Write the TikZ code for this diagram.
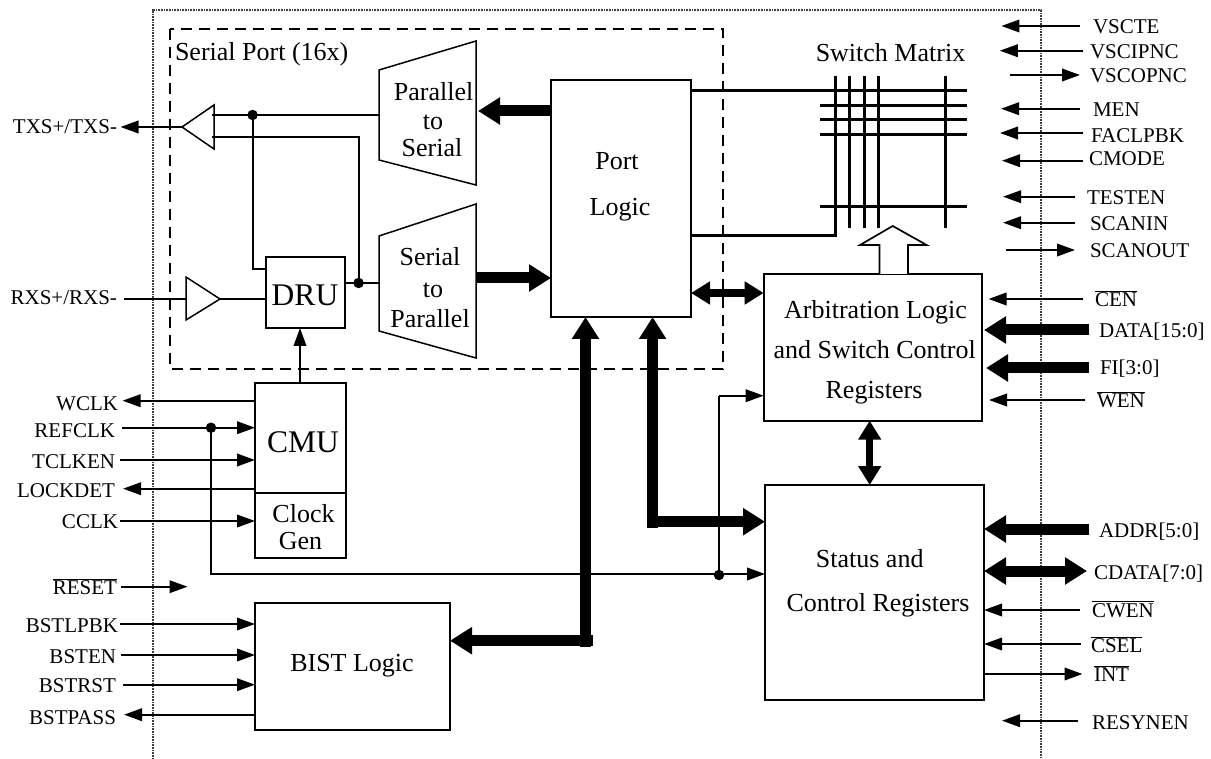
\documentclass[tikz,border=0pt]{standalone}
\usepackage{fontspec}
\setmainfont{Liberation Serif}
\usetikzlibrary{arrows.meta}
\tikzset{
  box/.style={draw,line width=2pt,inner sep=0,outer sep=0},
  txt/.style={inner sep=0,outer sep=0,text height=17.5pt,text depth=0pt,font=\fontsize{26}{30}\selectfont,align=center},
  big/.style={inner sep=0,outer sep=0,text height=21pt,text depth=0pt,font=\fontsize{31.5}{36}\selectfont},
  pin/.style={inner sep=0,outer sep=0,text height=14pt,text depth=0pt,font=\fontsize{21}{24}\selectfont},
  wire/.style={line width=2pt},
  sig/.style={wire,-{Triangle[length=18pt,width=12.5pt]}},
  bus/.style={line width=11pt,-{Triangle[length=22pt,width=26pt]}},
  bibus/.style={line width=11pt,{Triangle[length=22pt,width=26pt]}-{Triangle[length=22pt,width=26pt]}},
  link/.style={line width=7.5pt,{Triangle[length=19pt,width=22pt]}-{Triangle[length=19pt,width=22pt]}},
  grid/.style={line width=3pt},
  dot/.style={circle,fill=black,inner sep=0,minimum size=10.5pt},
  chip/.style={line width=1.2pt,black!75,dash pattern=on 1pt off .6pt},
  port/.style={line width=2pt,dash pattern=on 11pt off 7pt},
  mux/.style={draw,line width=1.5pt,line join=miter},
}
\begin{document}
\begin{tikzpicture}[x=1pt,y=-1pt]
\useasboundingbox (0,0) rectangle (1211,759);
% chip outline
\coordinate (o1) at (153,759); \coordinate (o2) at (153,10);
\coordinate (o3) at (1041,10); \coordinate (o4) at (1041,759);
\draw[chip] (o1) -- (o2) -- (o3) -- (o4);
% serial port outline
\coordinate (s1) at (170,29); \coordinate (s2) at (723,369);
\draw[port] (s1) rectangle (s2);
\node[txt,anchor=west] (tSP) at (175,52) {Serial Port (16x)};

% boxes
\node[box,minimum width=140pt,minimum height=237pt] (logic) at (621,198.5) {};
\node[box,minimum width=79pt,minimum height=71pt] (dru) at (305.5,292.5) {};
\node[box,minimum width=91pt,minimum height=109.7pt] (cmu) at (300.5,437.85) {};
\node[box,minimum width=91pt,minimum height=65.3pt] (gen) at (300.5,525.35) {};
\node[box,minimum width=195pt,minimum height=127.3pt] (bist) at (352.5,666.35) {};
\node[box,minimum width=218.3pt,minimum height=146.7pt] (arb) at (872.85,347.35) {};
\node[box,minimum width=219pt,minimum height=215pt] (stat) at (874.5,592.5) {};

% box texts
\node[txt] (tPort) at (617,161) {Port};
\node[txt] (tLogic) at (620,207) {Logic};
\node[big] (tDRU) at (305,295) {DRU};
\node[big] (tCMU) at (303,442) {CMU};
\node[txt] (tClock) at (303.5,514) {Clock};
\node[txt] (tGen) at (300.5,541) {Gen};
\node[txt] (tBIST) at (352,663) {BIST Logic};
\node[txt] (tA1) at (875.5,310) {Arbitration Logic};
\node[txt] (tA2) at (874.7,350) {and Switch Control};
\node[txt] (tA3) at (874,390) {Registers};
\node[txt] (tS1) at (869.7,559) {Status and};
\node[txt] (tS2) at (878,603) {Control Registers};
\node[txt] (tP1) at (433.6,92) {Parallel};
\node[txt] (tP2) at (433,121) {to};
\node[txt] (tP3) at (432,148) {Serial};
\node[txt] (tR1) at (430,257) {Serial};
\node[txt] (tR2) at (433,289) {to};
\node[txt] (tR3) at (430,319) {Parallel};
\node[txt] (tSM) at (890.5,53) {Switch Matrix};

% parallel-to-serial, serial-to-parallel
\coordinate (ptsL) at (379,115); \coordinate (ptsR) at (476,111);
\draw[mux] (379,70) -- (476,41) -- (476,185) -- (379,160) -- cycle;
\coordinate (stpL) at (379,283); \coordinate (stpR) at (476,278);
\draw[mux] (379,236) -- (476,204) -- (476,358) -- (379,331) -- cycle;
% buffers
\coordinate (txTip) at (182,127); \coordinate (rxTip) at (220,299); \coordinate (rxBase) at (186,299);
\draw[mux] (txTip) -- (214,105) -- (214,149) -- cycle;
\draw[mux] (rxBase |- 0,277) -- (rxTip) -- (rxBase |- 0,320) -- cycle;

% serial port wiring
\node[dot] (d1) at (252.6,115) {};
\node[dot] (d2) at (358.6,283) {};
\coordinate (b1) at (212,115); \coordinate (b2) at (212,137);
\draw[wire] (b1) -- (d1.center) -- (ptsL);
\draw[wire] (d1.center) -- (d1.center |- 0,269) -- (dru.west |- 0,269);
\draw[wire] (b2) -- (d2.center |- b2) -- (d2.center);
\draw[wire] (dru.east |- d2) -- (d2.center) -- (stpL);
\draw[wire] (rxTip) -- (dru.west |- rxTip);
\draw[sig] (cmu.north -| 300,0) -- (dru.south -| 300,0);

% left pins
\node[pin,anchor=east] (lTX) at (117,127) {TXS+/TXS-};
\coordinate (cTX) at (120.5,127);
\draw[sig] (txTip) -- (cTX);
\node[pin,anchor=east] (lRX) at (117,298) {RXS+/RXS-};
\coordinate (cRX) at (124,299);
\draw[wire] (cRX) -- (rxBase);
\node[pin,anchor=east] (lWCLK) at (118,403) {WCLK};
\coordinate (cWCLK) at (122.5,400.7);
\draw[sig] (cmu.west |- cWCLK) -- (cWCLK);
\node[pin,anchor=east] (lREF) at (115,430) {REFCLK};
\coordinate (cREF) at (122,427.7);
\node[dot] (d3) at (211,427.7) {};
\draw[sig] (cREF) -- (cmu.west |- cREF);
\node[pin,anchor=east] (lTCK) at (115,461) {TCLKEN};
\coordinate (cTCK) at (120,460);
\draw[sig] (cTCK) -- (cmu.west |- cTCK);
\node[pin,anchor=east] (lLOCK) at (115,490) {LOCKDET};
\coordinate (cLOCK) at (123,488.7);
\draw[sig] (cmu.west |- cLOCK) -- (cLOCK);
\node[pin,anchor=east] (lCCLK) at (118,521) {CCLK};
\coordinate (cCCLK) at (120,521);
\draw[sig] (cCCLK) -- (gen.west |- cCCLK);
\node[pin,anchor=east] (lRST) at (117,587.7) {$\overline{\mbox{RESET}}$};
\coordinate (cRST) at (121,586.7); \coordinate (eRST) at (187.5,586.7);
\draw[sig] (cRST) -- (eRST);
\node[pin,anchor=east] (lBL) at (118,625) {BSTLPBK};
\coordinate (cBL) at (120,624);
\draw[sig] (cBL) -- (bist.west |- cBL);
\node[pin,anchor=east] (lBE) at (116,656) {BSTEN};
\coordinate (cBE) at (121,655);
\draw[sig] (cBE) -- (bist.west |- cBE);
\node[pin,anchor=east] (lBR) at (116,685.7) {BSTRST};
\coordinate (cBR) at (123,684.7);
\draw[sig] (cBR) -- (bist.west |- cBR);
\node[pin,anchor=east] (lBP) at (116,717.7) {BSTPASS};
\coordinate (cBP) at (124,714.7);
\draw[sig] (bist.west |- cBP) -- (cBP);

% clock distribution
\node[dot] (d4) at (719,575) {};
\draw[wire] (d3.center) -- (d3.center |- 0,574) -- (d4.center |- 0,574);
\draw[sig] (d4.center |- 0,574) -- (stat.west |- 0,574);
\draw[wire] (d4.center) -- (d4.center |- 0,395.7);
\draw[sig] (d4.center |- 0,395.7) -- (arb.west |- 0,395.7);

% thick buses
\draw[bus] (logic.west |- ptsR) -- (ptsR -| 478,0);
\draw[bus] (stpR) -- (logic.west |- stpR);
\coordinate (jb) at (585.5,640.7);
\draw[line width=11pt] (593,640.7) -- (jb);
\draw[bus] (585.5,646.7) -- (logic.south -| jb);
\draw[bus] (593,640.7) -- (bist.east |- jb);
\coordinate (jc) at (652.6,521.7);
\draw[bus] (652.6,528) -- (logic.south -| jc);
\draw[bus] (647.1,521.7) -- (stat.west |- jc);
\coordinate (ja) at (700,293);
\draw[link] (logic.east |- ja) -- (arb.west |- ja);
\coordinate (jd) at (869.7,450);
\draw[link] (arb.south -| jd) -- (stat.north -| jd);

% switch matrix
\coordinate (v1) at (835.4,76); \coordinate (v2) at (849.4,76); \coordinate (v3) at (864.6,76);
\coordinate (v4) at (878.6,76); \coordinate (v5) at (945.7,76);
\coordinate (h1) at (967,91); \coordinate (h2) at (967,105.3); \coordinate (h3) at (967,120);
\coordinate (h4) at (967,134.3); \coordinate (h5) at (967,206.3);
\draw[grid] (v1) -- (v1 |- 0,235.3) -- (logic.east |- 0,235.3);
\draw[grid] (v2) -- (v2 |- 0,227.7);
\draw[grid] (v3) -- (v3 |- 0,227.7);
\draw[grid] (v4) -- (v4 |- 0,227.7);
\draw[grid] (v5) -- (v5 |- 0,227.7);
\draw[grid] (logic.east |- h1) -- (h1);
\draw[grid] (820,105.3) -- (h2);
\draw[grid] (820,120) -- (h3);
\draw[grid] (820,134.3) -- (h4);
\draw[grid] (820,206.3) -- (h5);
% hollow arrow
\draw[line width=1.7pt,fill=white,line join=miter] (arb.north -| 879.4,0) -- (879.4,245) -- (860,245) -- (892.7,226) -- (926.6,245) -- (908,245) -- (arb.north -| 908,0);

% right pins
\node[pin,anchor=west] (rA) at (1093,27) {VSCTE};
\coordinate (cA) at (1080,26); \coordinate (eA) at (1001.4,26);
\draw[sig] (cA) -- (eA);
\node[pin,anchor=west] (rB) at (1090,52) {VSCIPNC};
\coordinate (cB) at (1083,50.7); \coordinate (eB) at (999.8,50.7);
\draw[sig] (cB) -- (eB);
\node[pin,anchor=west] (rC) at (1090,76) {VSCOPNC};
\coordinate (cC) at (1080,75); \coordinate (eC) at (1010,75);
\draw[sig] (eC) -- (cC);
\node[pin,anchor=west] (rD) at (1093,110) {MEN};
\coordinate (cD) at (1080,108.7); \coordinate (eD) at (1001,108.7);
\draw[sig] (cD) -- (eD);
\node[pin,anchor=west] (rE) at (1091,135.7) {FACLPBK};
\coordinate (cE) at (1083,133); \coordinate (eE) at (1000,133);
\draw[sig] (cE) -- (eE);
\node[pin,anchor=west] (rF) at (1089,159) {CMODE};
\coordinate (cF) at (1083,160.7); \coordinate (eF) at (1002,160.7);
\draw[sig] (cF) -- (eF);
\node[pin,anchor=west] (rG) at (1087,198) {TESTEN};
\coordinate (cG) at (1075,196.7); \coordinate (eG) at (1003,196.7);
\draw[sig] (cG) -- (eG);
\node[pin,anchor=west] (rH) at (1090,224) {SCANIN};
\coordinate (cH) at (1075,222.7); \coordinate (eH) at (1003,222.7);
\draw[sig] (cH) -- (eH);
\node[pin,anchor=west] (rI) at (1090,251) {SCANOUT};
\coordinate (cI) at (1075,250); \coordinate (eI) at (1006,250);
\draw[sig] (eI) -- (cI);
\node[pin,anchor=west] (rJ) at (1095,300) {$\overline{\mbox{CEN}}$};
\coordinate (cJ) at (1083,299); \coordinate (eJ) at (988.5,299);
\draw[sig] (cJ) -- (eJ);
\node[pin,anchor=west] (rK) at (1099,331) {DATA[15:0]};
\coordinate (cK) at (1089,330); \coordinate (eK) at (984,330);
\draw[bus] (cK) -- (eK);
\node[pin,anchor=west] (rL) at (1100,368) {FI[3:0]};
\coordinate (cL) at (1089,368); \coordinate (eL) at (986,368);
\draw[bus] (cL) -- (eL);
\node[pin,anchor=west] (rM) at (1097,400.7) {$\overline{\mbox{WEN}}$};
\coordinate (cM) at (1085,400); \coordinate (eM) at (989,400);
\draw[sig] (cM) -- (eM);
\node[pin,anchor=west] (rN) at (1099,530) {ADDR[5:0]};
\coordinate (cN) at (1089,529);
\draw[bus] (cN) -- (stat.east |- cN);
\node[pin,anchor=west] (rO) at (1094,572.7) {CDATA[7:0]};
\coordinate (cO) at (1087,571);
\draw[bibus] (stat.east |- cO) -- (cO);
\node[pin,anchor=west] (rP) at (1092,610) {$\overline{\mbox{CWEN}}$};
\coordinate (cP) at (1080,610);
\draw[sig] (cP) -- (stat.east |- cP);
\node[pin,anchor=west] (rQ) at (1091,645.7) {$\overline{\mbox{CSEL}}$};
\coordinate (cQ) at (1080.5,644);
\draw[sig] (cQ) -- (stat.east |- cQ);
\node[pin,anchor=west] (rR) at (1094,674.7) {$\overline{\mbox{INT}}$};
\coordinate (cR) at (1082.5,674);
\draw[sig] (stat.east |- cR) -- (cR);
\node[pin,anchor=west] (rS) at (1092,722) {RESYNEN};
\coordinate (cS) at (1078,720.7); \coordinate (eS) at (1002,720.7);
\draw[sig] (cS) -- (eS);
\end{tikzpicture}
\end{document}
